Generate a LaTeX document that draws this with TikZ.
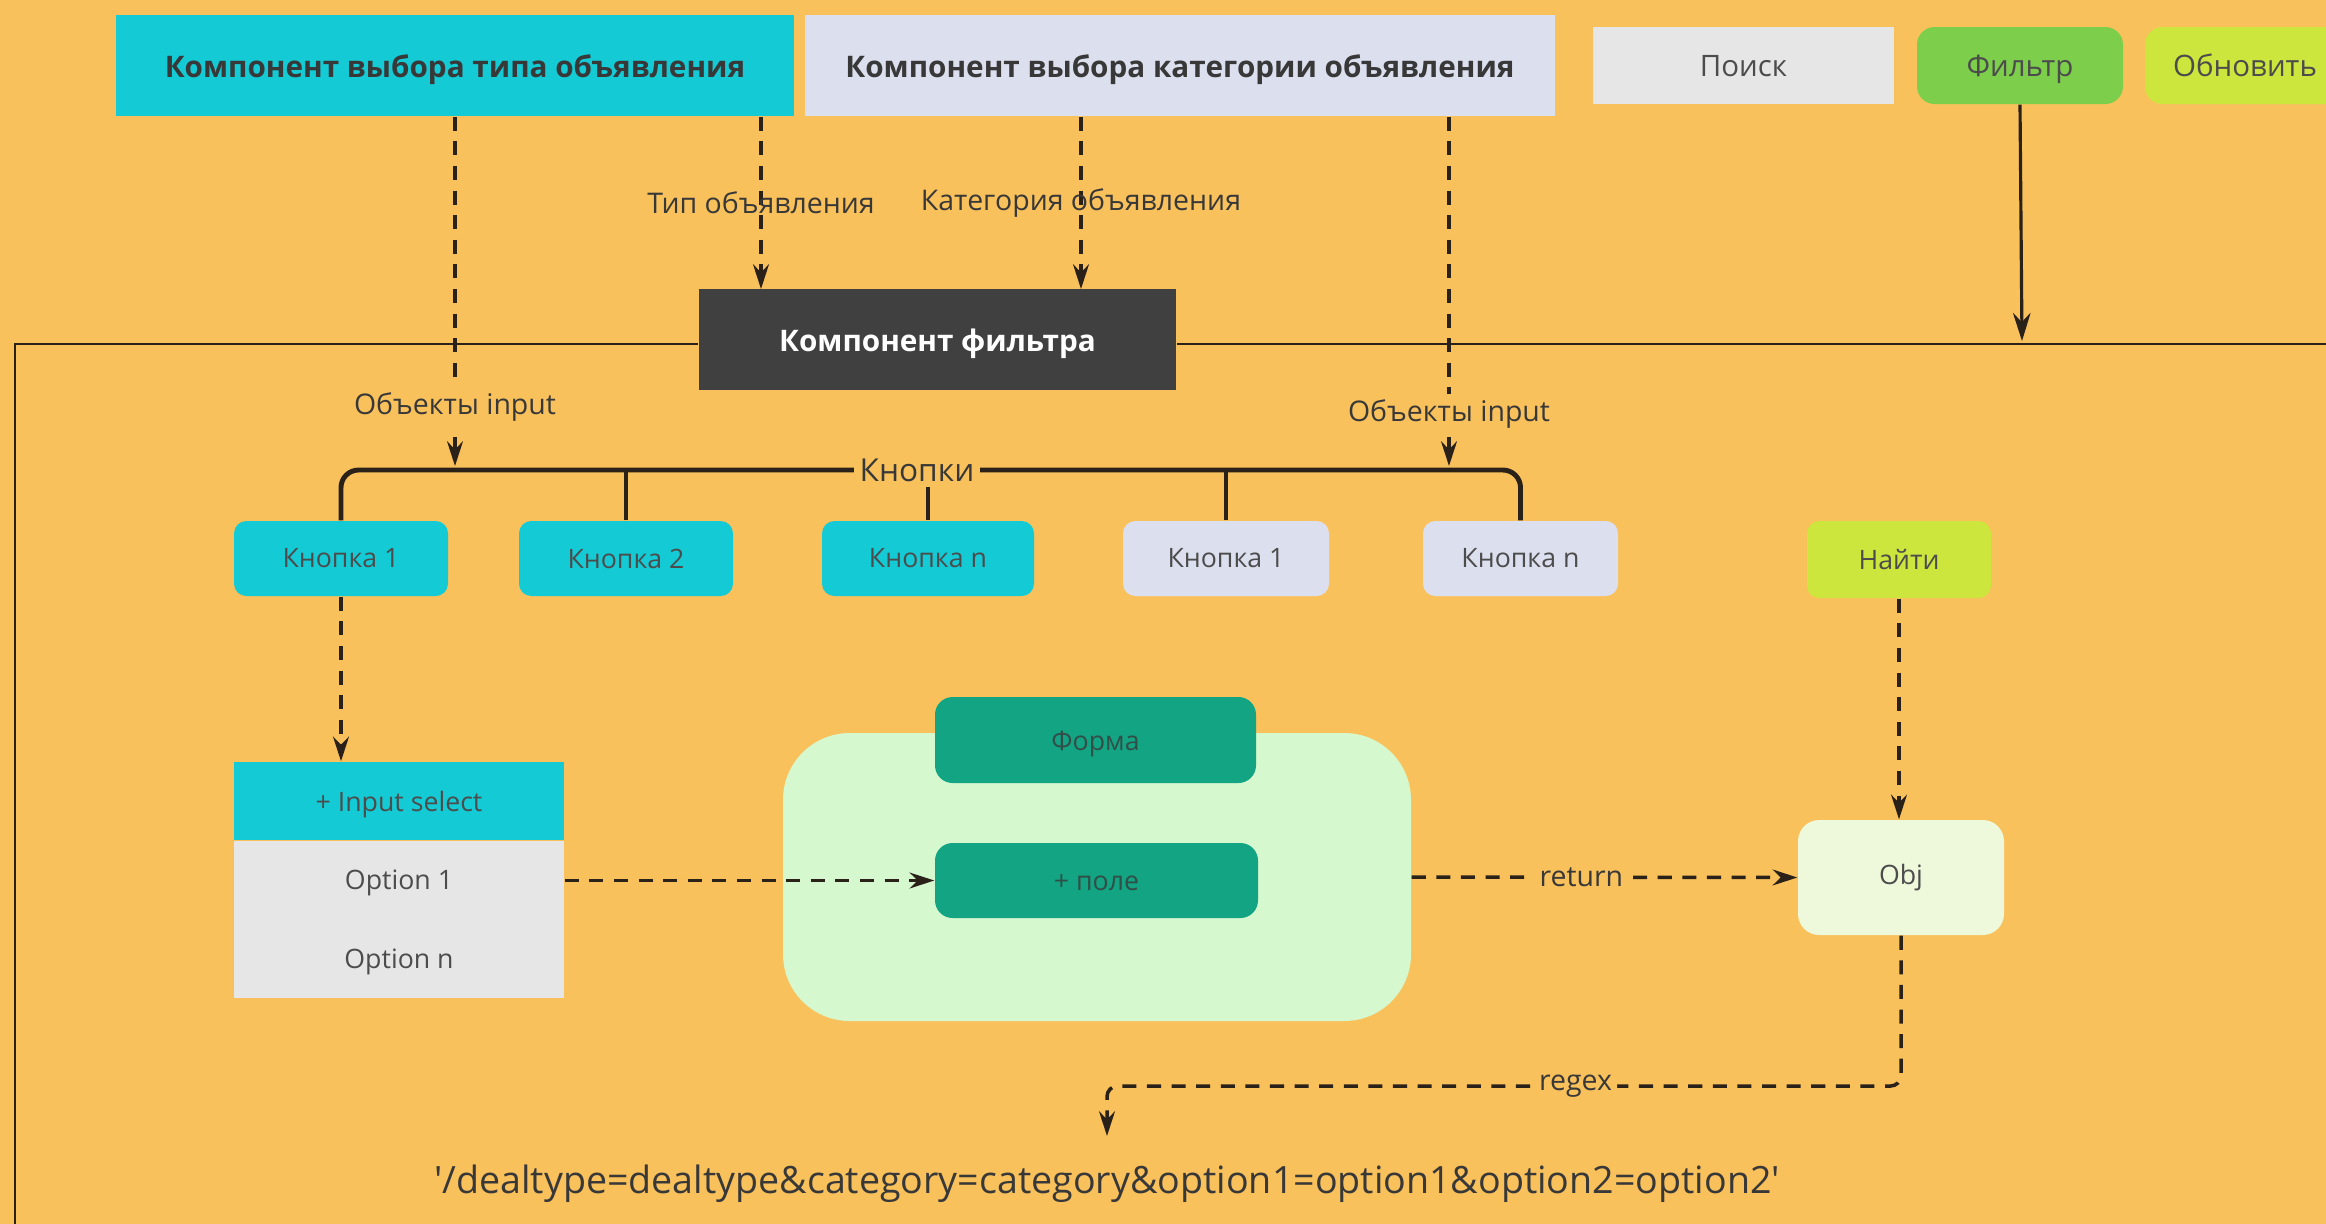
\documentclass[tikz,border=0pt]{standalone}
\usepackage{fontspec}
\setmainfont{Open Sans}
\usetikzlibrary{positioning, arrows.meta}

\definecolor{bgorange}{HTML}{F9C15C}
\definecolor{typecyan}{HTML}{14CAD4}
\definecolor{catgray}{HTML}{DCE0EE}
\definecolor{searchgray}{HTML}{E6E6E6}
\definecolor{filtergreen}{HTML}{7DCF4B}
\definecolor{limegreen}{HTML}{CDE63D}
\definecolor{darkbox}{HTML}{404040}
\definecolor{formbg}{HTML}{D6F8CF}
\definecolor{formteal}{HTML}{13A484}
\definecolor{objbg}{HTML}{EEF9DB}
\definecolor{txtgray}{HTML}{383838}
\definecolor{linebrown}{HTML}{2A2119}

\begin{document}
\begin{tikzpicture}[
        header/.style={rectangle, text centered, minimum height=1.01cm, text height=6.6pt, text depth=0pt, font=\fontsize{8.45}{10}\selectfont\bfseries, text=txtgray},
        topbtn/.style={rectangle, text centered, minimum height=0.77cm, text height=6.4pt, text depth=0pt, font=\fontsize{8.4}{10}\selectfont, text=txtgray!90},
        button/.style={rectangle, rounded corners=3.5pt, text centered, minimum height=0.75cm, font=\fontsize{7.6}{9}\selectfont, text=txtgray!90},
        tealbox/.style={rectangle, fill=formteal, rounded corners=5pt, text centered, text height=5.8pt, text depth=0pt, font=\fontsize{7.6}{9}\selectfont, text=txtgray!80!formteal},
        lbl/.style={font=\fontsize{8.1}{10}\selectfont, text=txtgray, inner sep=1.5pt},
        arrow/.style={line width=1pt, dash pattern=on 4pt off 3pt, draw=linebrown, -{Stealth[length=7pt, width=4.5pt]}},
        bracket/.style={line width=1.4pt, draw=linebrown, rounded corners=5pt},
        frame/.style={line width=0.8pt, draw=linebrown}
    ]
    \useasboundingbox (0,0) rectangle (23.26,-12.23);
    \fill[bgorange] (-0.1,0.1) rectangle (23.36,-12.33);

    % header row
    \node[header, fill=typecyan, minimum width=6.78cm] (typesel) at (4.55,-0.655) {Компонент выбора типа объявления};
    \node[header, fill=catgray, minimum width=7.50cm] (catsel) at (11.80,-0.655) {Компонент выбора категории объявления};
    \node[topbtn, fill=searchgray, minimum width=3.01cm] (search) at (17.435,-0.655) {Поиск};
    \node[topbtn, fill=filtergreen, rounded corners=5pt, minimum width=2.06cm] (filterbtn) at (20.20,-0.655) {Фильтр};
    \node[topbtn, fill=limegreen, rounded corners=5pt, minimum width=2.0cm] (refresh) at (22.45,-0.655) {Обновить};

    \node[header, fill=darkbox, text=white, minimum width=4.77cm] (filtercomp) at (9.375,-3.395) {Компонент фильтра};

    % frame of the filter component
    \coordinate (frametl) at (0.15,-3.44);
    \coordinate (framebl) at (0.15,-12.5);
    \coordinate (frametr) at (23.5,-3.44);
    \draw[frame] (framebl) -- (frametl) -- (filtercomp.west |- frametl);
    \draw[frame] (filtercomp.east |- frametl) -- (frametr);
    \coordinate (filterin) at (20.22,-3.41);
    \draw[line width=0.9pt, draw=linebrown, -{Stealth[length=8pt, width=5pt]}] (filterbtn.south) -- (filterin);

    % buttons
    \node[button, fill=typecyan, minimum width=2.14cm] (tb1) at (3.41,-5.585) {Кнопка 1};
    \node[button, fill=typecyan, minimum width=2.14cm] (tb2) at (6.26,-5.585) {Кнопка 2};
    \node[button, fill=typecyan, minimum width=2.12cm] (tbn) at (9.28,-5.585) {Кнопка n};
    \node[button, fill=catgray, minimum width=2.06cm] (cb1) at (12.26,-5.585) {Кнопка 1};
    \node[button, fill=catgray, minimum width=1.95cm] (cbn) at (15.205,-5.585) {Кнопка n};
    \node[button, fill=limegreen, minimum width=1.84cm, minimum height=0.77cm] (find) at (18.99,-5.595) {Найти};

    \coordinate (brk) at (9.17,-4.70);
    \draw[bracket] (tb1.north) |- (brk) -| (cbn.north);
    \draw[line width=1.1pt, draw=linebrown] (tb2.north) -- (tb2.north |- brk);
    \draw[line width=1.1pt, draw=linebrown] (cb1.north) -- (cb1.north |- brk);
    \node[lbl, fill=bgorange, font=\fontsize{9}{11}\selectfont] (knopki) at (brk) {Кнопки};
    \draw[line width=1.1pt, draw=linebrown] (tbn.north |- knopki.south) -- (tbn.north);

    % inputs from the header
    \coordinate (typein) at (7.61,-2.89);
    \coordinate (catin) at (10.81,-2.89);
    \coordinate (inleft) at (4.55,-4.66);
    \coordinate (inright) at (14.49,-4.66);
    \draw[arrow] (typesel.south) -- node[lbl, fill=bgorange, pos=0.83] {Объекты input} (inleft);
    \draw[arrow] (typesel.south -| typein) -- node[lbl, pos=0.5] {Тип объявления} (typein);
    \draw[arrow] (catsel.south -| catin) -- node[lbl, pos=0.5] {Категория объявления} (catin);
    \draw[arrow] (catsel.south -| inright) -- node[lbl, fill=bgorange, pos=0.85] {Объекты input} (inright);

    % select
    \node[rectangle, fill=typecyan, minimum width=3.30cm, minimum height=0.78cm, text height=5.8pt, text depth=0pt, font=\fontsize{7.6}{9}\selectfont, text=txtgray!90] (inputsel) at (3.99,-8.01) {+ Input select};
    \node[rectangle, fill=searchgray, minimum width=3.30cm, minimum height=1.57cm, below=0pt of inputsel] (options) {};
    \node[font=\fontsize{7.6}{9}\selectfont, text=txtgray!90] (opt1) at (3.99,-8.825) {Option 1};
    \node[font=\fontsize{7.6}{9}\selectfont, text=txtgray!90] (optn) at (3.99,-9.615) {Option n};
    \draw[arrow] (tb1.south) -- (tb1.south |- inputsel.north);

    % form
    \node[rectangle, fill=formbg, rounded corners=19pt, minimum width=6.28cm, minimum height=2.88cm] (formbg) at (10.97,-8.77) {};
    \node[tealbox, minimum width=3.21cm, minimum height=0.86cm] (formhead) at (10.955,-7.40) {Форма};
    \node[tealbox, minimum width=3.23cm, minimum height=0.75cm] (field) at (10.965,-8.805) {+ поле};
    \draw[arrow] (field.west -| options.east) -- (field.west);

    % result
    \node[button, fill=objbg, rounded corners=6pt, minimum width=2.06cm, minimum height=1.15cm] (obj) at (19.01,-8.775) {Obj};
    \draw[arrow] (find.south) -- (find.south |- obj.north);
    \draw[arrow] (formbg.east) -- node[lbl, fill=bgorange, pos=0.44] {return} (obj.west);

    \node[font=\fontsize{10.7}{13}\selectfont, text=txtgray] (url) at (11.07,-11.84) {\textquotesingle/dealtype=dealtype\&category=category\&option1=option1\&option2=option2\textquotesingle};
    \coordinate (regexturn) at (11.07,-10.86);
    \coordinate (urlin) at (11.07,-11.36);
    \draw[arrow, rounded corners=3pt] (obj.south) |- node[lbl, fill=bgorange, pos=0.705] {regex} (regexturn) -- (urlin);
\end{tikzpicture}
\end{document}
